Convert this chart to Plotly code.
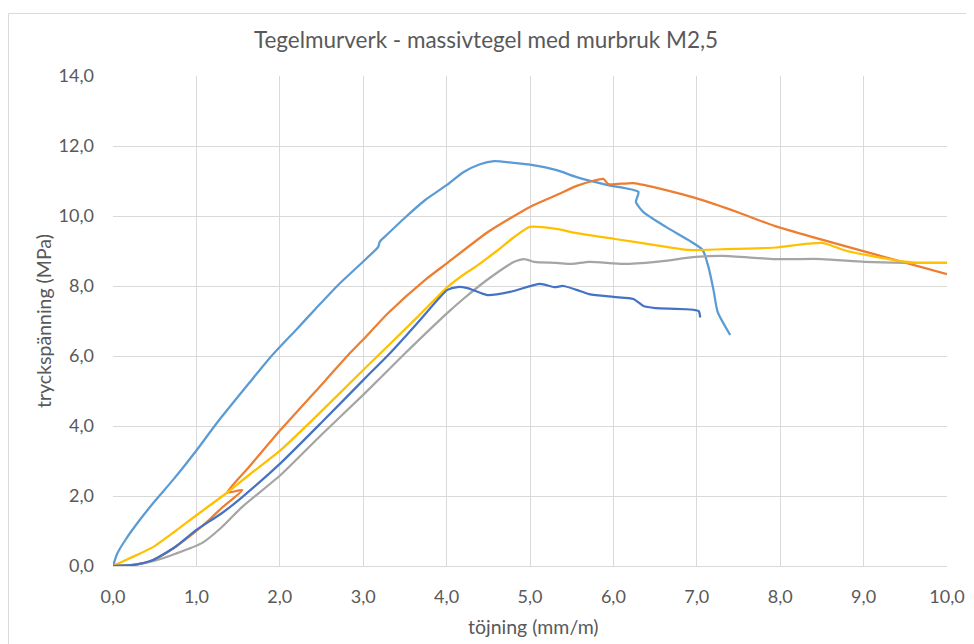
import plotly.graph_objects as go

# Series data (töjning mm/m, tryckspänning MPa)
lightblue_x = [0, 0.05, 0.15, 0.3, 0.5, 0.72, 1.0, 1.25, 1.63, 1.9, 2.2, 2.43, 2.7, 3.0, 3.18, 3.2, 3.3,
               3.5, 3.74, 4.0, 4.2, 4.4, 4.57, 4.8, 5.0, 5.32, 5.56, 5.92, 6.3, 6.27, 6.36, 6.63, 6.9,
               7.07, 7.14, 7.2, 7.25, 7.4]
lightblue_y = [0, 0.35, 0.75, 1.25, 1.85, 2.46, 3.3, 4.1, 5.22, 6.0, 6.76, 7.35, 8.03, 8.7, 9.12, 9.27, 9.5,
               9.95, 10.45, 10.88, 11.25, 11.48, 11.57, 11.52, 11.47, 11.31, 11.11, 10.89, 10.69, 10.4, 10.11,
               9.69, 9.31, 9.03, 8.54, 7.89, 7.26, 6.6]

orange_x = [0, 0.25, 0.48, 0.75, 1.0, 1.15, 1.3, 1.55, 1.37, 1.49, 1.63, 2.01, 2.55, 2.82, 3.0, 3.3,
            3.74, 4.01, 4.5, 5.0, 5.32, 5.56, 5.75, 5.88, 5.94, 6.24, 6.63, 6.99, 7.5, 7.94, 10.0]
orange_y = [0, 0.03, 0.17, 0.55, 1.0, 1.31, 1.65, 2.17, 2.1, 2.46, 2.83, 3.89, 5.31, 6.03, 6.47, 7.23,
            8.17, 8.66, 9.55, 10.26, 10.6, 10.86, 11.0, 11.06, 10.91, 10.94, 10.74, 10.51, 10.1, 9.71, 8.34]

gray_x = [0, 0.3, 0.5, 0.75, 1.07, 1.3, 1.55, 2.01, 2.5, 3.0, 3.5, 4.01, 4.21, 4.5, 4.81, 4.93, 5.05,
          5.32, 5.5, 5.71, 6.12, 6.51, 6.99, 7.31, 7.94, 8.5, 9.01, 9.5, 10.0]
gray_y = [0, 0.05, 0.15, 0.35, 0.66, 1.1, 1.69, 2.6, 3.75, 4.89, 6.07, 7.23, 7.65, 8.2, 8.69, 8.77, 8.69,
          8.66, 8.63, 8.69, 8.63, 8.69, 8.83, 8.86, 8.77, 8.77, 8.69, 8.66, 8.66]

yellow_x = [0, 0.2, 0.48, 0.75, 1.0, 1.37, 1.63, 2.01, 2.43, 3.0, 3.65, 4.01, 4.25, 4.33, 4.6, 4.81, 5.0,
            5.32, 5.56, 6.0, 6.5, 6.9, 7.3, 7.94, 8.5, 8.8, 9.37, 9.6, 10.0]
yellow_y = [0, 0.22, 0.54, 1.0, 1.45, 2.1, 2.6, 3.31, 4.26, 5.6, 7.11, 7.97, 8.4, 8.52, 9.0, 9.4, 9.69,
            9.63, 9.51, 9.35, 9.17, 9.03, 9.05, 9.1, 9.23, 9.0, 8.74, 8.67, 8.66]

blue_x = [0, 0.25, 0.48, 0.75, 1.0, 1.3, 1.55, 2.01, 2.5, 3.0, 3.33, 3.65, 3.89, 4.01, 4.13, 4.25, 4.49,
          4.76, 5.12, 5.29, 5.4, 5.56, 5.71, 6.0, 6.24, 6.36, 6.51, 7.02, 7.04]
blue_y = [0, 0.03, 0.17, 0.55, 1.03, 1.5, 1.97, 2.94, 4.1, 5.31, 6.1, 6.94, 7.6, 7.89, 7.97, 7.94, 7.74,
          7.83, 8.06, 7.97, 8.0, 7.89, 7.77, 7.69, 7.63, 7.43, 7.37, 7.29, 7.1]

series = [
    (lightblue_x, lightblue_y, "#5B9BD5"),
    (orange_x, orange_y, "#ED7D31"),
    (gray_x, gray_y, "#A5A5A5"),
    (yellow_x, yellow_y, "#FFC000"),
    (blue_x, blue_y, "#4472C4"),
]

title_text = "Tegelmurverk - massivtegel med murbruk M2,5"
x_title = "töjning (mm/m)"
y_title = "tryckspänning (MPa)"

fig = go.Figure()
for xs, ys, col in series:
    fig.add_trace(go.Scatter(x=xs, y=ys, mode="lines",
                             line=dict(color=col, width=2.25, shape="spline", smoothing=0.6),
                             showlegend=False, hoverinfo="skip"))

FONT = "Lato, 'Open Sans', sans-serif"
TXT = "#595959"
GRID = "#D9D9D9"

# The page body has an 8px margin, so the figure is sized to fit the window.
W, H = 966, 636
L, T, PW, PH = 105, 68, 834, 490

fig.update_layout(
    width=W, height=H,
    margin=dict(l=L, r=W - L - PW, t=T, b=H - T - PH, autoexpand=False),
    paper_bgcolor="white", plot_bgcolor="white",
    separators=", ",
    font=dict(family=FONT, color=TXT, size=18),
    title=dict(text=title_text, x=(486 - 8) / W, xref="container", xanchor="center",
               y=1 - (40 - 8) / H, yref="container", yanchor="middle",
               font=dict(family=FONT, size=22.5, color=TXT)),
    xaxis=dict(range=[0, 10], dtick=1, tick0=0, tickformat=".1f",
               showgrid=True, gridcolor=GRID, gridwidth=1, automargin=False,
               zeroline=False, showline=True, linecolor=GRID, linewidth=1,
               ticks="", ticklabelstandoff=14, fixedrange=True,
               ticklabeloverflow="allow",
               tickfont=dict(size=18, color=TXT)),
    yaxis=dict(range=[0, 14], dtick=2, tick0=0, tickformat=".1f",
               showgrid=True, gridcolor=GRID, gridwidth=1, automargin=False,
               zeroline=False, showline=False,
               ticks="", ticklabelstandoff=18, fixedrange=True,
               tickfont=dict(size=18, color=TXT)),
    annotations=[
        dict(text=x_title, xref="paper", yref="paper", x=(533 - 113) / PW, y=(566 - 626) / PH,
             xanchor="center", yanchor="middle", showarrow=False,
             font=dict(size=19.5, color=TXT, family=FONT)),
        dict(text=y_title, xref="paper", yref="paper", x=(43 - 113) / PW, y=0.5,
             xanchor="center", yanchor="middle", showarrow=False, textangle=-90,
             font=dict(size=19.5, color=TXT, family=FONT)),
    ],
    shapes=[
        dict(type="rect", xref="paper", yref="paper",
             x0=(0.5 - L) / PW, x1=(975 - L) / PW,
             y0=(T + PH - 660) / PH, y1=(T + PH - 5.5) / PH,
             line=dict(color=GRID, width=1), fillcolor="rgba(0,0,0,0)", layer="below"),
    ],
)

fig.write_html("out.html")
